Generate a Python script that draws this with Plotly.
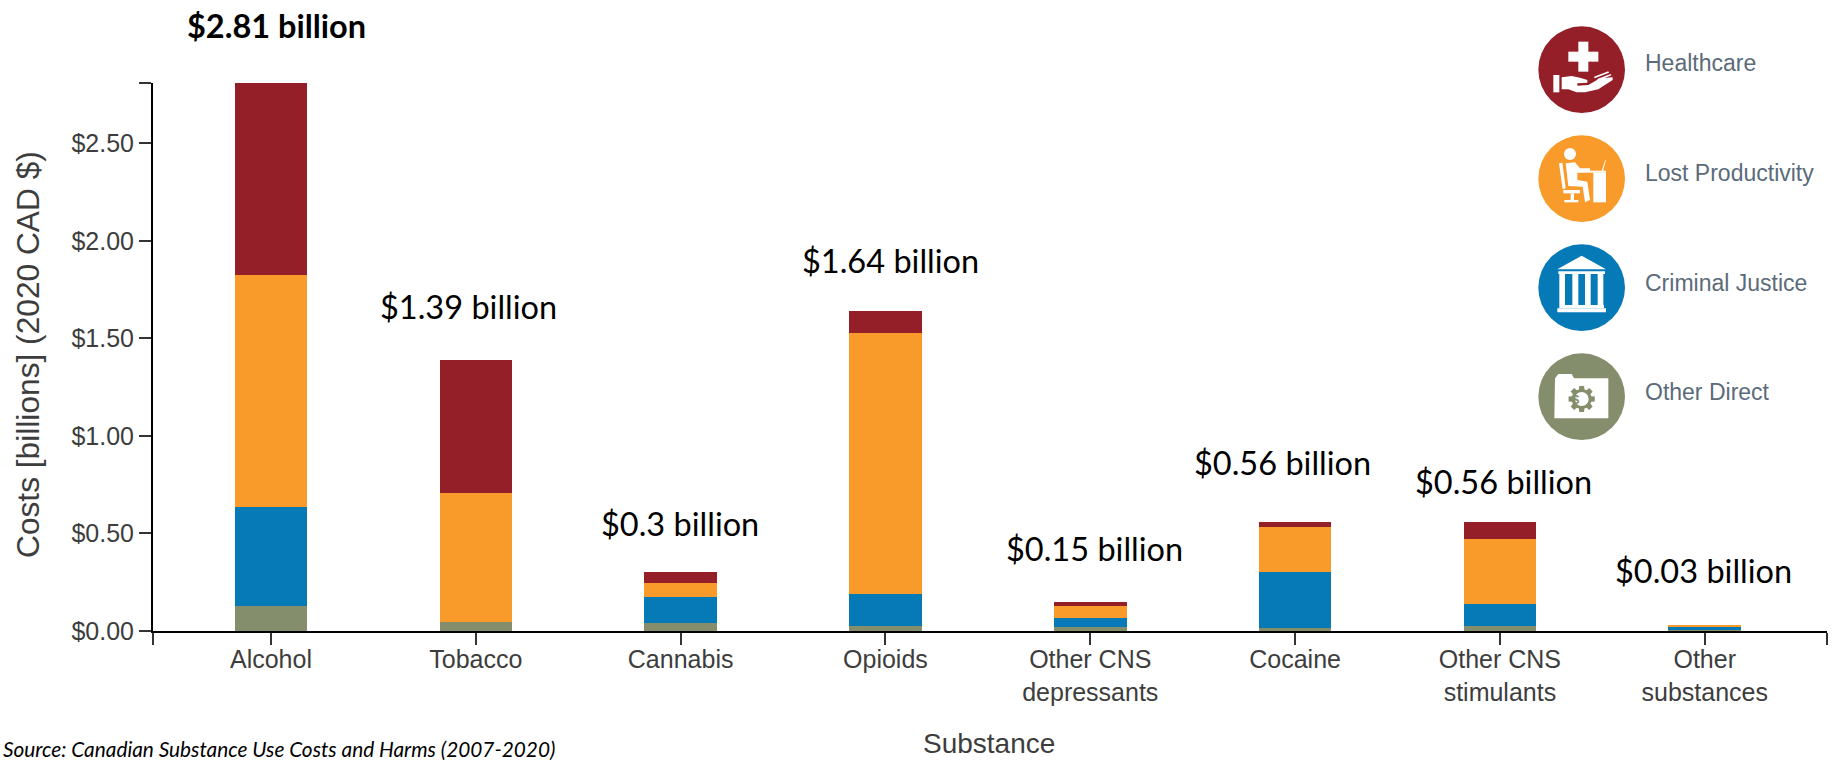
import math
import plotly.graph_objects as go

# Costs by substance, billions of 2020 CAD
substances = ["Alcohol", "Tobacco", "Cannabis", "Opioids", "Other CNS<br>depressants",
              "Cocaine", "Other CNS<br>stimulants", "Other<br>substances"]
other_direct = [0.13, 0.048, 0.04, 0.025, 0.02, 0.015, 0.025, 0.004]
criminal_justice = [0.505, 0.0, 0.135, 0.165, 0.045, 0.29, 0.113, 0.018]
lost_productivity = [1.19, 0.66, 0.07, 1.337, 0.065, 0.228, 0.335, 0.008]
healthcare = [0.985, 0.682, 0.055, 0.113, 0.02, 0.027, 0.087, 0.0]

y_ticks = [0, 0.5, 1.0, 1.5, 2.0, 2.5]

COLORS = {"Healthcare": "#951F28", "Lost Productivity": "#F99B2A",
          "Criminal Justice": "#0679B7", "Other Direct": "#848E6C"}

# Plot area in page pixels
LEFT, RIGHT, TOP, BOTTOM = 153, 1827, 83, 631
W, H = 1833, 762
X_RANGE = [-0.576, 7.597]


def xp(px):
    return (px - LEFT) / (RIGHT - LEFT)


def yp(py):
    return (BOTTOM - py) / (BOTTOM - TOP)


fig = go.Figure()
x_pos = list(range(len(substances)))
stack = [("Other Direct", other_direct), ("Criminal Justice", criminal_justice),
         ("Lost Productivity", lost_productivity), ("Healthcare", healthcare)]
for name, values in stack:
    fig.add_bar(x=x_pos, y=values, name=name, marker_color=COLORS[name],
                marker_line_width=0, width=0.354)

# Totals above each stack: horizontal nudge and height above the bar, in pixels
totals = [round(sum(parts), 2) for parts in zip(other_direct, criminal_justice, lost_productivity, healthcare)]
label_dx = [6, -7, -1, 5, 4, -13, 4, -1]
label_dy = [58, 53, 49, 51, 53, 59, 40, 55]
annotations = []
for i, total in enumerate(totals):
    annotations.append(dict(
        x=i, y=total, xref="x", yref="y", xshift=label_dx[i], yshift=label_dy[i],
        text=f"<b>${total:g} billion</b>" if i == 0 else f"${total:g} billion",
        showarrow=False, xanchor="center", yanchor="middle",
        font=dict(family="Lato", size=32.5, color="#000000")))

annotations.append(dict(
    x=xp(1), y=yp(748), xref="paper", yref="paper", xanchor="left", yanchor="middle",
    text="<i>Source: Canadian Substance Use Costs and Harms (2007-2020)</i>", showarrow=False,
    font=dict(family="Lato", size=20.8, color="#000000")))

# Axis names are placed directly so the plot area keeps its fixed margins
annotations.append(dict(
    x=xp(989), y=yp(743), xref="paper", yref="paper", xanchor="center", yanchor="middle",
    text="Substance", showarrow=False,
    font=dict(family="Liberation Sans", size=28, color="#3D3D3D")))
annotations.append(dict(
    x=xp(28), y=yp(355), xref="paper", yref="paper", xanchor="center", yanchor="middle",
    text="Costs [billions] (2020 CAD $)", textangle=-90, showarrow=False,
    font=dict(family="Liberation Sans", size=31.7, color="#3D3D3D")))

# Key on the right: a coloured disc with a white pictogram, then its name
KEY_X = 1500


def zx(v):
    return xp(KEY_X + v / 3)


def zy(v):
    return yp(v / 3)


def poly(points, fill="#FFFFFF"):
    path = "M " + " L ".join(f"{zx(a):.5f},{zy(b):.5f}" for a, b in points) + " Z"
    return dict(type="path", path=path, xref="paper", yref="paper",
                fillcolor=fill, line_width=0, layer="above")


def rect(x0, y0, x1, y1, fill="#FFFFFF"):
    return poly([(x0, y0), (x1, y0), (x1, y1), (x0, y1)], fill)


def disc(cx, cy, r, fill="#FFFFFF"):
    return dict(type="circle", xref="paper", yref="paper",
                x0=zx(cx - r), x1=zx(cx + r), y0=zy(cy + r), y1=zy(cy - r),
                fillcolor=fill, line_width=0, layer="above")


key_rows = [("Healthcare", 209, 190), ("Lost Productivity", 536, 520),
            ("Criminal Justice", 863, 850), ("Other Direct", 1190, 1175)]
shapes = []
for name, cy, ty in key_rows:
    shapes.append(disc(245, cy, 130, COLORS[name]))
    annotations.append(dict(
        x=zx(428), y=zy(ty), xref="paper", yref="paper", xanchor="left", yanchor="middle",
        text=name, showarrow=False,
        font=dict(family="Liberation Sans", size=23, color="#5B6B7A")))

# Hand holding a cross
shapes += [
    rect(205, 155, 295, 185), rect(235, 125, 265, 215),
    rect(160, 225, 178, 277),
    poly([(185, 232), (215, 228), (240, 233), (262, 240), (262, 248), (232, 250), (232, 257),
          (265, 255), (300, 235), (338, 232), (338, 240), (295, 268), (255, 277), (230, 277),
          (205, 268), (185, 268)]),
    poly([(282, 230), (325, 214), (327, 218), (284, 235)]),
    poly([(292, 237), (332, 222), (334, 226), (294, 242)]),
]
# Person at a desk
shapes += [
    disc(210, 462, 18),
    poly([(177, 490), (187, 488), (197, 565), (188, 568)]),
    rect(190, 570, 240, 580), rect(212, 580, 222, 600), rect(193, 600, 235, 607),
    poly([(197, 490), (225, 487), (240, 505), (270, 505), (270, 515), (232, 518), (232, 540),
          (262, 545), (270, 600), (255, 607), (248, 560), (205, 558)]),
    rect(235, 512, 318, 518), rect(280, 518, 318, 607),
    poly([(305, 512), (316, 480), (318, 480), (309, 512)]),
]
# Courthouse
shapes += [
    poly([(245, 767), (172, 808), (318, 808)]),
    rect(175, 814, 315, 822),
    rect(178, 822, 195, 915), rect(217, 822, 235, 915),
    rect(255, 822, 272, 915), rect(293, 822, 310, 915),
    rect(178, 915, 312, 925), rect(172, 925, 318, 937),
]
# Folder with a cost gear
green = COLORS["Other Direct"]
shapes.append(poly([(165, 1135), (175, 1122), (215, 1122), (222, 1135), (325, 1135), (325, 1255), (163, 1255)]))
gear = []
for k in range(8):
    for offset, radius in ((-0.28, 30), (-0.18, 40), (0.18, 40), (0.28, 30)):
        angle = k * math.pi / 4 + offset
        gear.append((245 + radius * math.cos(angle), 1197 + radius * math.sin(angle)))
shapes.append(poly(gear, green))
shapes.append(disc(245, 1197, 21))
annotations.append(dict(x=zx(245), y=zy(1197), xref="paper", yref="paper", text="<b>$</b>",
                        showarrow=False, font=dict(family="Liberation Sans", size=13, color=green)))

fig.update_layout(
    width=W, height=H, autosize=False,
    margin=dict(l=LEFT, r=W - RIGHT, t=TOP, b=H - BOTTOM),
    barmode="stack", showlegend=False, plot_bgcolor="#FFFFFF", paper_bgcolor="#FFFFFF",
    annotations=annotations, shapes=shapes,
    xaxis=dict(
        range=X_RANGE, showgrid=False, zeroline=False, showline=True, linecolor="#000000", linewidth=2,
        tickmode="array", tickvals=[X_RANGE[0]] + x_pos + [X_RANGE[1]], ticktext=[""] + substances + [""],
        ticks="outside", ticklen=12, tickwidth=1.5, tickcolor="#333333", ticklabelstandoff=-7,
        tickfont=dict(family="Liberation Sans", size=25, color="#3D3D3D"),
    ),
    yaxis=dict(
        range=[0, totals[0]], showgrid=False, zeroline=False, showline=True, linecolor="#000000", linewidth=2,
        tickmode="array", tickvals=y_ticks + [totals[0]], ticktext=[f"${v:.2f}" for v in y_ticks] + [""],
        ticks="outside", ticklen=12, tickwidth=1.5, tickcolor="#333333",
        tickfont=dict(family="Liberation Sans", size=25, color="#3D3D3D"),
    ),
)

fig.write_html("out.html", config=dict(displayModeBar=False))
